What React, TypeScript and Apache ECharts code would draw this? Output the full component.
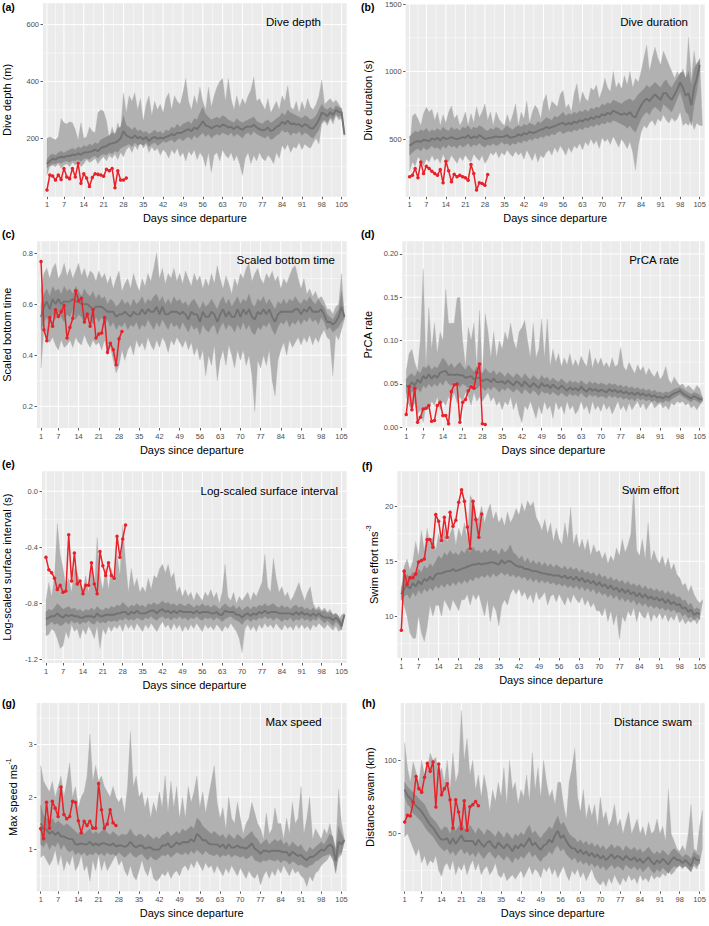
import React, { useEffect, useRef } from 'react';
import * as echarts from 'echarts';

const FONT = '"Liberation Sans", Arial, Helvetica, sans-serif';

// ---- shared x-axis breaks ----
const xTicks = [1, 7, 14, 21, 28, 35, 42, 49, 56, 63, 70, 77, 84, 91, 98, 105];
const xMinor = [4, 10.5, 17.5, 24.5, 31.5, 38.5, 45.5, 52.5, 59.5, 66.5, 73.5, 80.5, 87.5, 94.5, 101.5];

// ---- (a) Dive depth ----
const aYTicks = [200, 400, 600];
const aYMinor = [100, 300, 500];
const aOuterHi = [200,205,200,195,205,270,255,250,258,255, 230,195,255,200,205,240,225,220,290,300, 295,262,200,240,210,255,225,360,290,350,
  330,360,300,340,260,320,350,280,330,300, 320,290,340,360,300,350,330,320,360,410, 330,300,350,320,380,330,300,380,310,350,
  380,400,410,330,410,340,300,350,310,340, 320,350,370,415,330,340,320,300,340,290, 310,330,300,350,330,385,310,300,330,290,
  330,300,340,310,300,320,350,405,320,330, 340,325,335,320,300,210];
const aOuterLo = [70,100,105,100,110,95,105,110,100,115, 105,120,100,110,125,115,120,130,110,125, 135,120,140,130,145,125,150,135,160,170,
  150,175,160,190,165,180,150,170,155,165, 140,160,150,130,160,145,165,135,150,120, 155,140,160,125,150,135,100,150,80,140,
  150,120,160,140,130,150,120,140,110,70, 130,150,110,140,120,150,130,120,140,130, 110,150,130,175,160,180,150,170,165,185,
  160,180,170,165,185,200,180,250,260,245, 270,250,280,265,270,210];
const aInnerLo = [95,105,110,110,115,112,118,120,115,122, 120,125,118,128,130,125,135,138,130,140, 145,140,150,145,155,150,165,170,175,180,
  170,185,175,180,175,185,170,180,185,175, 180,190,185,190,195,185,195,200,190,200, 205,195,210,200,210,220,205,215,200,210,
  215,210,220,215,210,220,205,215,210,200, 215,220,210,225,215,210,205,200,210,195, 200,210,215,230,220,225,210,220,215,225,
  210,220,215,205,200,215,230,260,265,255, 275,265,285,275,280,212];
const aInnerHi = [125,140,145,140,150,155,148,155,160,165, 160,170,165,175,170,180,175,185,180,195, 200,205,210,220,215,235,240,280,245,240,
  230,240,225,230,220,225,215,220,230,220, 225,215,230,225,240,235,250,240,250,255, 260,250,270,265,290,310,285,275,265,270,
  275,270,280,275,265,260,255,270,260,255, 260,265,270,275,260,255,250,260,265,255, 260,270,275,290,280,300,290,285,280,275,
  270,280,275,265,270,280,300,320,305,300, 310,300,315,310,305,215];
const aMed = [110,120,128,125,132,135,133,138,137,143, 140,147,142,150,150,152,155,160,155,165, 170,172,180,182,185,190,200,225,210,205,
  200,210,200,205,195,205,190,200,205,198, 202,200,205,208,215,210,220,218,222,228, 232,225,238,232,245,260,245,242,235,240,
  245,240,248,245,238,240,232,242,235,230, 238,242,240,248,238,232,228,230,238,225, 230,240,245,258,250,262,250,252,248,250,
  240,250,245,235,235,248,265,290,285,278, 292,282,300,292,292,213];
const aObs = [18,71,67,53,71,55,94,64,58,94,64,112,42,75,60,30,62,75,73,71,66,91,86,94,26,86,53,53,60];

// ---- (b) Dive duration ----
const bYTicks = [500, 1000, 1500];
const bYMinor = [250, 750, 1250];
const bOuterHi = [420,670,690,650,600,690,735,700,720,640, 700,600,680,620,700,745,650,680,600,640, 700,600,690,620,740,660,700,760,640,700,
  600,700,650,620,600,680,620,680,760,600, 700,650,780,620,700,750,720,650,780,830, 700,780,760,740,830,860,730,760,700,840,
  910,760,850,800,780,880,860,900,800,860, 950,880,850,1000,880,920,870,970,900,1000, 880,950,920,1000,1100,1195,1000,1100,1180,1100,
  1050,1150,1100,1050,1000,950,1000,950,1020,940, 1255,950,1150,1000,1100,600];
const bOuterLo = [260,330,300,370,340,300,350,330,380,340, 360,320,390,340,330,380,350,320,370,340, 380,350,330,390,360,340,380,320,350,400,
  380,410,360,400,380,420,390,370,410,380, 400,350,420,380,340,400,330,380,360,400, 420,380,440,400,450,420,380,440,400,450,
  430,470,420,480,450,500,460,490,430,510, 480,500,460,520,480,440,500,470,430,480, 400,270,450,550,600,580,620,640,600,650,
  630,680,640,620,660,630,650,700,600,620, 600,650,570,620,600,600];
const bInnerLo = [380,400,420,430,410,440,420,430,450,430, 440,420,450,430,460,440,450,430,460,440, 450,470,440,460,450,470,450,440,460,450,
  470,450,460,480,460,470,450,470,460,480, 470,490,480,500,490,510,500,520,510,530, 520,540,530,550,560,540,550,560,550,570,
  560,580,570,590,580,600,590,610,600,620, 610,630,620,640,630,620,610,600,580,600, 570,550,600,650,680,700,680,720,740,720,
  700,760,740,720,700,750,800,850,780,700, 680,600,750,850,1000];
const bInnerHi = [520,540,560,550,570,560,580,550,570,560, 580,560,590,570,560,590,570,580,560,590, 580,600,570,590,580,600,590,570,560,580,
  570,590,580,560,580,600,580,570,590,600, 590,610,600,620,610,600,630,620,640,660, 650,640,670,660,680,700,670,690,680,700,
  690,710,700,720,700,730,720,740,730,760, 750,770,760,790,780,770,760,780,790,800, 780,800,830,850,870,900,880,900,920,900,
  880,920,940,900,880,920,950,990,1000,950, 1000,900,1020,1060,1090];
const bMed = [450,465,480,485,480,495,490,485,505,495, 510,490,515,500,505,515,505,500,505,515, 510,530,505,520,510,530,515,500,505,510,
  515,520,515,515,520,530,510,515,520,535, 525,545,535,555,545,550,560,570,575,590, 580,590,595,605,615,620,605,620,610,630,
  620,640,630,650,640,660,650,670,660,685, 675,695,685,710,700,690,680,690,680,700, 670,660,710,750,780,800,780,810,830,810,
  790,840,840,810,790,830,870,920,880,820, 840,750,880,950,1050];
const bObs = [221,233,282,213,331,245,299,282,262,245,233,275,176,336,265,184,240,221,233,221,213,196,311,245,123,176,172,159,238];

// ---- (c) Scaled bottom time ----
const cYTicks = [0.2, 0.4, 0.6, 0.8];
const cYMinor = [0.3, 0.5, 0.7];
const cOuterHi = [0.66,0.72,0.74,0.70,0.74,0.76,0.70,0.72,0.76,0.71, 0.74,0.70,0.73,0.76,0.71,0.74,0.70,0.73,0.72,0.69, 0.73,0.70,0.72,0.68,0.71,0.66,0.70,0.73,0.65,0.68,
  0.70,0.66,0.72,0.68,0.65,0.70,0.67,0.72,0.69,0.74, 0.80,0.70,0.74,0.68,0.72,0.70,0.74,0.69,0.72,0.68, 0.73,0.70,0.67,0.72,0.69,0.71,0.66,0.70,0.67,0.72,
  0.68,0.75,0.70,0.66,0.71,0.68,0.64,0.70,0.67,0.72, 0.70,0.74,0.76,0.69,0.72,0.74,0.70,0.68,0.72,0.70, 0.73,0.69,0.71,0.66,0.70,0.68,0.71,0.74,0.75,0.70,
  0.66,0.70,0.64,0.66,0.63,0.65,0.62,0.63,0.61,0.58, 0.58,0.56,0.59,0.60,0.72,0.55];
const cOuterLo = [0.35,0.50,0.46,0.45,0.47,0.44,0.42,0.46,0.43,0.44, 0.46,0.43,0.47,0.45,0.44,0.48,0.45,0.43,0.46,0.44, 0.45,0.42,0.46,0.40,0.43,0.38,0.33,0.36,0.42,0.38,
  0.42,0.44,0.40,0.46,0.43,0.45,0.42,0.47,0.44,0.42, 0.46,0.43,0.47,0.45,0.41,0.46,0.44,0.47,0.45,0.43, 0.46,0.42,0.45,0.40,0.43,0.38,0.42,0.32,0.40,0.36,
  0.44,0.30,0.38,0.42,0.36,0.44,0.40,0.35,0.42,0.38, 0.42,0.36,0.40,0.32,0.18,0.38,0.35,0.40,0.36,0.42, 0.30,0.24,0.38,0.42,0.45,0.40,0.46,0.43,0.45,0.47,
  0.44,0.47,0.45,0.48,0.44,0.47,0.45,0.48,0.50,0.47, 0.46,0.32,0.48,0.46,0.50,0.54];
const cInnerLo = [0.50,0.53,0.55,0.52,0.56,0.54,0.57,0.55,0.53,0.56, 0.55,0.58,0.54,0.56,0.55,0.53,0.56,0.54,0.52,0.55, 0.53,0.55,0.52,0.54,0.51,0.53,0.50,0.52,0.51,0.53,
  0.50,0.52,0.51,0.53,0.50,0.52,0.51,0.54,0.52,0.50, 0.53,0.51,0.54,0.52,0.50,0.53,0.51,0.52,0.50,0.53, 0.51,0.49,0.52,0.50,0.51,0.48,0.52,0.50,0.49,0.51,
  0.52,0.48,0.51,0.53,0.50,0.52,0.51,0.49,0.52,0.50, 0.53,0.50,0.52,0.49,0.48,0.51,0.50,0.52,0.51,0.53, 0.50,0.48,0.51,0.53,0.52,0.54,0.51,0.53,0.52,0.54,
  0.52,0.54,0.53,0.55,0.53,0.54,0.52,0.55,0.53,0.50, 0.51,0.49,0.50,0.51,0.53,0.545];
const cInnerHi = [0.60,0.64,0.66,0.63,0.67,0.65,0.66,0.64,0.67,0.65, 0.66,0.64,0.67,0.65,0.63,0.66,0.64,0.63,0.65,0.62, 0.64,0.62,0.63,0.60,0.62,0.61,0.59,0.60,0.62,0.60,
  0.61,0.59,0.62,0.60,0.61,0.63,0.60,0.62,0.61,0.63, 0.64,0.61,0.63,0.60,0.62,0.60,0.63,0.61,0.62,0.60, 0.61,0.59,0.61,0.62,0.60,0.58,0.61,0.59,0.60,0.62,
  0.60,0.58,0.61,0.63,0.60,0.62,0.59,0.61,0.63,0.60, 0.62,0.61,0.64,0.60,0.59,0.62,0.61,0.63,0.60,0.62, 0.60,0.58,0.61,0.60,0.62,0.60,0.62,0.61,0.63,0.61,
  0.60,0.62,0.61,0.63,0.61,0.60,0.62,0.60,0.59,0.56, 0.55,0.54,0.56,0.58,0.65,0.555];
const cMed = [0.55,0.59,0.61,0.58,0.62,0.60,0.62,0.60,0.61,0.61, 0.61,0.62,0.61,0.61,0.60,0.60,0.60,0.59,0.58,0.59, 0.59,0.59,0.58,0.57,0.57,0.57,0.55,0.56,0.56,0.57,
  0.56,0.55,0.57,0.56,0.56,0.58,0.56,0.58,0.57,0.57, 0.59,0.56,0.59,0.56,0.56,0.57,0.57,0.57,0.56,0.57, 0.56,0.54,0.57,0.56,0.56,0.53,0.57,0.55,0.55,0.57,
  0.56,0.53,0.56,0.58,0.55,0.57,0.55,0.55,0.58,0.55, 0.58,0.56,0.58,0.55,0.54,0.57,0.56,0.58,0.56,0.58, 0.55,0.53,0.56,0.57,0.57,0.57,0.57,0.57,0.58,0.58,
  0.56,0.58,0.57,0.59,0.57,0.57,0.57,0.58,0.56,0.53, 0.53,0.52,0.53,0.55,0.59,0.55];
const cObs = [0.767,0.50,0.457,0.548,0.513,0.578,0.552,0.571,0.595,0.467,0.509,0.545,0.652,0.613,0.623,0.53,0.561,0.513,0.578,0.467,0.483,0.487,0.548,0.412,0.447,0.421,0.363,0.464,0.493];

// ---- (d) PrCA rate ----
const dYTicks = [0, 0.05, 0.1, 0.15, 0.2];
const dYMinor = [0.025, 0.075, 0.125, 0.175];
const dOuterHi = [0.065,0.085,0.09,0.075,0.065,0.10,0.183,0.07,0.138,0.09, 0.12,0.085,0.11,0.10,0.159,0.12,0.12,0.12,0.149,0.15, 0.10,0.07,0.115,0.10,0.12,0.07,0.135,0.06,0.131,0.11,
  0.08,0.11,0.08,0.10,0.09,0.11,0.10,0.12,0.10,0.09, 0.11,0.115,0.123,0.10,0.08,0.12,0.08,0.09,0.125,0.08, 0.125,0.07,0.09,0.075,0.085,0.07,0.08,0.072,0.085,0.07,
  0.078,0.07,0.082,0.075,0.07,0.09,0.068,0.08,0.072,0.08, 0.07,0.075,0.068,0.08,0.07,0.072,0.092,0.07,0.065,0.075, 0.068,0.062,0.072,0.065,0.07,0.06,0.068,0.062,0.058,0.065,
  0.055,0.06,0.07,0.055,0.05,0.058,0.052,0.048,0.05,0.045, 0.048,0.045,0.042,0.048,0.045,0.035];
const dOuterLo = [0.035,0.025,0.02,0.028,0.015,0.02,0.005,0.025,0.02,0.03, 0.025,0.035,0.02,0.03,0.025,0.035,0.03,0.04,0.028,0.035, 0.03,0.04,0.035,0.025,0.04,0.03,0.035,0.03,0.035,0.04,
  0.03,0.035,0.025,0.03,0.02,0.03,0.025,0.035,0.02,0.03, 0.015,0.005,0.025,0.02,0.03,0.02,0.01,0.025,0.015,0.03, 0.02,0.025,0.01,0.03,0.02,0.025,0.015,0.03,0.02,0.025,
  0.015,0.02,0.03,0.02,0.025,0.015,0.03,0.02,0.025,0.018, 0.028,0.02,0.025,0.015,0.022,0.03,0.02,0.025,0.018,0.028, 0.02,0.025,0.03,0.022,0.028,0.02,0.025,0.03,0.022,0.025,
  0.028,0.022,0.025,0.02,0.028,0.025,0.03,0.028,0.03,0.025, 0.028,0.022,0.025,0.02,0.025,0.03];
const dInnerLo = [0.04,0.035,0.042,0.038,0.045,0.04,0.048,0.045,0.05,0.046, 0.05,0.047,0.052,0.048,0.055,0.05,0.048,0.052,0.05,0.046, 0.05,0.048,0.045,0.05,0.047,0.044,0.048,0.045,0.042,0.046,
  0.043,0.047,0.044,0.04,0.045,0.042,0.046,0.043,0.04,0.044, 0.042,0.038,0.044,0.041,0.038,0.043,0.04,0.036,0.042,0.039, 0.04,0.037,0.041,0.038,0.036,0.04,0.037,0.035,0.039,0.036,
  0.038,0.035,0.04,0.036,0.034,0.038,0.035,0.037,0.034,0.036, 0.035,0.033,0.037,0.034,0.036,0.033,0.035,0.032,0.034,0.031, 0.033,0.03,0.034,0.031,0.033,0.03,0.032,0.029,0.031,0.028,
  0.03,0.028,0.031,0.029,0.032,0.034,0.036,0.038,0.035,0.033, 0.031,0.029,0.032,0.03,0.028,0.03];
const dInnerHi = [0.055,0.06,0.062,0.058,0.065,0.062,0.07,0.068,0.072,0.066, 0.07,0.068,0.074,0.08,0.076,0.07,0.074,0.068,0.072,0.075, 0.07,0.066,0.072,0.068,0.064,0.07,0.066,0.062,0.068,0.064,
  0.062,0.066,0.06,0.064,0.062,0.058,0.063,0.06,0.057,0.062, 0.06,0.056,0.062,0.058,0.055,0.06,0.057,0.054,0.06,0.056, 0.058,0.053,0.057,0.054,0.052,0.056,0.053,0.05,0.054,0.051,
  0.053,0.05,0.054,0.051,0.049,0.053,0.05,0.052,0.049,0.051, 0.05,0.048,0.051,0.049,0.05,0.047,0.049,0.046,0.048,0.045, 0.047,0.044,0.046,0.043,0.045,0.042,0.044,0.041,0.043,0.04,
  0.041,0.039,0.041,0.04,0.042,0.044,0.045,0.046,0.044,0.042, 0.04,0.038,0.04,0.039,0.037,0.034];
const dMed = [0.048,0.047,0.052,0.048,0.055,0.051,0.059,0.056,0.061,0.056, 0.06,0.057,0.063,0.064,0.065,0.06,0.061,0.06,0.061,0.06, 0.06,0.057,0.058,0.059,0.055,0.057,0.057,0.053,0.055,0.055,
  0.052,0.056,0.052,0.052,0.053,0.05,0.054,0.051,0.048,0.053, 0.051,0.047,0.053,0.049,0.046,0.051,0.048,0.045,0.051,0.047, 0.049,0.045,0.049,0.046,0.044,0.048,0.045,0.042,0.046,0.043,
  0.045,0.042,0.047,0.043,0.041,0.045,0.042,0.044,0.041,0.043, 0.042,0.04,0.044,0.041,0.043,0.04,0.042,0.039,0.041,0.038, 0.04,0.037,0.04,0.037,0.039,0.036,0.038,0.035,0.037,0.034,
  0.035,0.033,0.036,0.034,0.037,0.039,0.04,0.042,0.039,0.037, 0.035,0.033,0.036,0.034,0.032,0.032];
const dObs = [0.0146,0.0467,0.02,0.045,0.0057,0.0115,0.021,0.0218,0.025,0.0069,0.0077,0.025,0.0287,0.0134,0.0134,0.0038,0.041,0.049,0.0498,0.0057,0.0287,0.032,0.042,0.0467,0.045,0.063,0.0728,0.0038,0.003];

// ---- (e) Log-scaled surface interval ----
const eYTicks = [-1.2, -0.8, -0.4, 0];
const eYMinor = [-1.0, -0.6, -0.2];
const eOuterHi = [-0.78,-0.65,-0.75,-0.60,-0.23,-0.45,-0.55,-0.68,-0.62,-0.72, -0.55,-0.58,-0.66,-0.70,-0.60,-0.72,-0.55,-0.70,-0.33,-0.60, -0.70,-0.55,-0.70,-0.55,-0.65,-0.45,-0.60,-0.24,-0.50,-0.72,
  -0.55,-0.68,-0.62,-0.72,-0.68,-0.72,-0.62,-0.70,-0.60,-0.62, -0.55,-0.52,-0.58,-0.52,-0.62,-0.58,-0.72,-0.68,-0.75,-0.70, -0.75,-0.72,-0.78,-0.72,-0.75,-0.78,-0.72,-0.75,-0.70,-0.76,
  -0.72,-0.80,-0.72,-0.52,-0.75,-0.78,-0.72,-0.80,-0.75,-0.78, -0.75,-0.72,-0.78,-0.72,-0.75,-0.70,-0.65,-0.45,-0.68,-0.72, -0.48,-0.62,-0.72,-0.68,-0.75,-0.72,-0.78,-0.75,-0.70,-0.65,
  -0.72,-0.78,-0.72,-0.68,-0.80,-0.84,-0.82,-0.85,-0.83,-0.86, -0.84,-0.88,-0.90,-0.92,-0.88,-0.87];
const eOuterLo = [-1.03,-1.02,-0.98,-1.00,-1.05,-1.12,-1.10,-1.00,-1.05,-0.95, -1.00,-0.98,-1.05,-0.98,-1.02,-0.96,-1.00,-1.05,-0.96,-1.12, -0.98,-1.02,-0.96,-1.00,-0.96,-0.98,-0.95,-1.00,-0.94,-0.98,
  -0.95,-0.99,-0.94,-0.97,-1.00,-0.95,-0.98,-0.94,-0.97,-1.00, -0.96,-0.93,-0.97,-0.95,-0.99,-0.94,-0.98,-0.95,-1.00,-0.96, -0.99,-0.95,-0.98,-0.94,-0.97,-1.00,-0.95,-0.98,-0.96,-0.99,
  -0.95,-0.97,-1.00,-0.96,-0.98,-0.94,-0.97,-1.00,-1.05,-1.15, -0.98,-0.95,-0.99,-0.96,-1.00,-0.95,-0.98,-0.94,-0.97,-0.95, -0.98,-0.94,-0.97,-0.99,-0.95,-0.98,-0.96,-0.99,-0.95,-0.98,
  -0.95,-0.98,-0.96,-0.99,-0.95,-0.97,-0.94,-0.96,-0.98,-0.95, -0.97,-0.99,-0.96,-1.00,-0.98,-0.88];
const eInnerLo = [-0.96,-0.95,-0.93,-0.95,-0.94,-0.96,-0.95,-0.93,-0.95,-0.92, -0.94,-0.93,-0.95,-0.93,-0.94,-0.92,-0.94,-0.95,-0.92,-0.94, -0.93,-0.94,-0.92,-0.93,-0.92,-0.93,-0.91,-0.92,-0.90,-0.92,
  -0.91,-0.92,-0.90,-0.91,-0.92,-0.90,-0.91,-0.89,-0.91,-0.92, -0.90,-0.89,-0.91,-0.90,-0.92,-0.90,-0.91,-0.89,-0.91,-0.90, -0.92,-0.90,-0.91,-0.89,-0.91,-0.92,-0.90,-0.91,-0.90,-0.92,
  -0.90,-0.91,-0.93,-0.91,-0.90,-0.89,-0.91,-0.92,-0.93,-0.95, -0.92,-0.91,-0.93,-0.91,-0.92,-0.90,-0.91,-0.89,-0.91,-0.90, -0.92,-0.90,-0.91,-0.93,-0.91,-0.92,-0.90,-0.93,-0.91,-0.92,
  -0.90,-0.92,-0.91,-0.93,-0.91,-0.92,-0.90,-0.92,-0.94,-0.92, -0.94,-0.96,-0.93,-0.95,-0.99,-0.88];
const eInnerHi = [-0.86,-0.84,-0.85,-0.83,-0.80,-0.82,-0.84,-0.83,-0.82,-0.84, -0.83,-0.85,-0.84,-0.86,-0.84,-0.85,-0.83,-0.85,-0.82,-0.84, -0.85,-0.83,-0.84,-0.82,-0.83,-0.81,-0.82,-0.79,-0.81,-0.83,
  -0.81,-0.82,-0.80,-0.82,-0.81,-0.83,-0.80,-0.81,-0.79,-0.81, -0.80,-0.78,-0.80,-0.79,-0.81,-0.80,-0.82,-0.80,-0.81,-0.82, -0.80,-0.81,-0.83,-0.81,-0.82,-0.80,-0.82,-0.81,-0.83,-0.81,
  -0.82,-0.84,-0.82,-0.80,-0.82,-0.83,-0.81,-0.84,-0.82,-0.85, -0.83,-0.82,-0.84,-0.82,-0.83,-0.81,-0.82,-0.80,-0.82,-0.81, -0.80,-0.82,-0.83,-0.81,-0.83,-0.82,-0.84,-0.82,-0.81,-0.83,
  -0.82,-0.84,-0.83,-0.85,-0.83,-0.85,-0.84,-0.86,-0.85,-0.87, -0.86,-0.88,-0.87,-0.89,-0.93,-0.88];
const eMed = [-0.91,-0.90,-0.89,-0.89,-0.87,-0.89,-0.90,-0.88,-0.89,-0.88, -0.89,-0.89,-0.90,-0.90,-0.89,-0.89,-0.89,-0.90,-0.87,-0.89, -0.89,-0.88,-0.88,-0.88,-0.88,-0.87,-0.87,-0.86,-0.86,-0.88,
  -0.86,-0.87,-0.85,-0.87,-0.87,-0.87,-0.86,-0.85,-0.85,-0.87, -0.85,-0.84,-0.86,-0.85,-0.87,-0.85,-0.87,-0.85,-0.86,-0.86, -0.86,-0.86,-0.87,-0.85,-0.87,-0.86,-0.86,-0.86,-0.87,-0.87,
  -0.86,-0.88,-0.88,-0.85,-0.86,-0.86,-0.86,-0.88,-0.88,-0.90, -0.88,-0.87,-0.89,-0.87,-0.88,-0.86,-0.87,-0.85,-0.87,-0.86, -0.86,-0.86,-0.87,-0.87,-0.87,-0.87,-0.87,-0.88,-0.86,-0.88,
  -0.86,-0.88,-0.87,-0.89,-0.87,-0.89,-0.87,-0.89,-0.90,-0.90, -0.90,-0.92,-0.90,-0.92,-0.96,-0.88];
const eObs = [-0.47,-0.56,-0.58,-0.62,-0.70,-0.67,-0.72,-0.71,-0.31,-0.64,-0.44,-0.66,-0.64,-0.73,-0.67,-0.67,-0.51,-0.66,-0.73,-0.43,-0.53,-0.60,-0.51,-0.60,-0.62,-0.32,-0.47,-0.34,-0.24];

// ---- (f) Swim effort ----
const fYTicks = [10, 15, 20];
const fYMinor = [7.5, 12.5, 17.5];
const fOuterHi = [12.5,14.5,15.2,14.2,15.0,16.8,15.5,17.8,16.0,18.0, 16.5,17.2,16.0,17.5,16.5,18.0,16.8,17.5,18.2,16.5, 18.0,17.2,18.5,17.0,21.0,20.5,18.5,19.0,20.0,18.5,
  19.5,20.2,18.8,19.5,18.5,19.0,18.2,19.5,18.5,19.0, 19.8,19.2,20.3,19.5,20.5,20.0,20.4,19.0,18.5,17.8, 18.8,17.5,18.5,16.8,18.0,17.0,16.5,18.5,17.0,19.9,
  16.5,17.5,16.2,17.0,16.0,17.0,15.5,16.5,15.8,16.0, 15.2,15.8,14.8,15.5,15.0,16.2,15.5,17.0,15.8,16.5, 17.5,21.7,16.0,15.5,17.0,15.2,18.5,15.0,16.0,15.2,
  14.8,15.5,14.5,15.3,14.2,14.8,13.8,13.5,12.8,13.0, 12.2,12.8,12.0,11.5,11.2,11.5];
const fOuterLo = [11.5,11.0,10.0,8.5,8.0,8.0,10.0,8.5,7.7,9.0, 11.0,10.0,11.0,11.0,10.0,11.5,11.0,10.5,11.5,11.0, 10.5,11.5,11.5,12.0,11.0,12.0,11.5,12.0,11.0,10.0,
  11.5,9.5,11.0,10.5,9.1,11.0,11.5,11.0,12.0,12.5, 12.0,12.5,11.8,12.2,11.5,12.0,11.2,12.3,11.5,11.8, 12.2,11.0,11.8,12.0,11.3,12.0,11.5,11.0,11.8,11.2,
  12.0,11.5,11.2,11.8,11.0,11.5,10.8,11.2,10.5,10.5, 10.0,10.8,9.5,10.5,9.2,10.2,7.9,10.0,9.5,10.5, 10.0,10.8,9.5,10.5,10.0,9.8,10.5,9.5,10.2,9.8,
  10.3,9.7,10.2,9.5,10.0,9.6,10.2,9.4,9.8,9.3, 9.6,9.4,9.8,9.3,9.8,11.3];
const fInnerLo = [11.5,11.8,12.0,11.6,12.2,11.8,12.4,12.0,12.5,12.2, 12.6,12.3,12.8,12.5,12.9,12.6,13.0,12.7,13.1,12.8, 13.2,12.9,13.3,13.0,13.4,13.2,13.6,13.4,13.7,13.5,
  13.8,13.5,13.9,13.6,13.8,14.0,13.7,13.9,13.6,13.8, 13.5,13.7,13.4,13.6,13.2,13.5,13.1,13.4,13.0,13.3, 13.0,13.2,12.9,13.1,12.8,13.0,12.7,12.9,12.6,12.8,
  12.5,12.8,12.4,12.7,12.3,12.6,12.2,12.5,12.0,12.3, 11.9,12.1,11.7,12.0,11.6,11.9,11.4,11.7,11.3,11.6, 11.2,11.5,11.0,11.3,10.9,11.2,10.8,11.0,10.7,10.9,
  10.6,10.8,10.5,10.7,10.4,10.6,10.3,10.4,10.0,10.2, 9.8,10.0,9.6,9.9,9.7];
const fInnerHi = [12.5,13.5,13.8,13.6,14.0,13.8,14.3,14.0,14.6,14.3, 14.8,14.5,15.0,15.5,15.2,15.8,15.5,16.0,15.6,15.8, 15.5,16.0,15.7,16.2,15.8,16.3,15.9,16.0,15.7,16.1,
  15.8,16.2,15.9,16.0,15.6,16.2,15.8,16.0,16.5,15.8, 15.6,15.2,15.5,14.9,15.3,14.8,15.1,14.7,15.0,14.6, 14.9,14.5,14.8,14.4,14.7,14.5,14.3,14.6,14.2,14.5,
  14.2,14.4,14.0,14.3,13.9,14.1,13.8,14.0,13.6,13.9, 13.5,13.7,13.3,13.6,13.2,13.4,13.1,13.3,12.9,13.2, 12.8,13.0,12.7,12.9,12.5,12.8,12.4,12.6,12.3,12.5,
  12.2,12.4,12.0,12.3,11.9,12.1,11.7,11.8,11.4,11.5, 11.0,11.2,10.6,10.8,10.6];
const fMed = [12.0,12.5,12.8,12.5,13.0,12.7,13.2,12.9,13.4,13.2, 13.6,13.3,13.8,13.9,13.9,14.0,14.1,14.1,14.3,14.1, 14.2,14.3,14.4,14.5,14.6,14.7,14.7,14.8,14.7,14.8,
  14.8,14.9,14.9,14.8,14.7,15.1,14.8,15.0,15.0,14.8, 14.6,14.5,14.5,14.3,14.3,14.2,14.1,14.1,14.0,13.9, 13.9,13.8,13.8,13.7,13.7,13.7,13.5,13.7,13.4,13.6,
  13.3,13.6,13.2,13.5,13.1,13.3,13.0,13.2,12.8,13.1, 12.7,12.9,12.5,12.8,12.4,12.6,12.2,12.5,12.1,12.4, 12.0,12.2,11.8,12.1,11.7,12.0,11.6,11.8,11.5,11.7,
  11.4,11.6,11.2,11.5,11.1,11.3,11.0,11.1,10.7,10.8, 10.4,10.6,10.1,10.3,10.2];
const fObs = [8.73,14.1,12.9,13.5,13.5,13.85,14.94,15.06,15.2,16.97,16.97,16.27,19.24,18.64,16.88,19.0,17.18,19.45,18.18,18.73,20.36,21.5,20.45,18.12,16.15,20.45,18.79,17.18,19.3];

// ---- (g) Max speed ----
const gYTicks = [1, 2, 3];
const gYMinor = [0.5, 1.5, 2.5, 3.5];
const gOuterHi = [2.6,2.3,2.2,2.1,2.3,2.0,2.2,2.4,2.0,2.3, 2.65,2.0,2.2,1.8,2.0,2.1,2.4,3.2,2.3,2.6, 2.3,2.4,2.2,2.1,2.0,2.2,2.0,1.9,2.0,1.7,
  2.2,3.25,2.2,2.4,2.0,2.1,1.8,2.0,1.6,1.9, 1.7,2.1,1.8,2.4,1.7,2.3,1.8,2.2,1.6,2.0, 1.6,2.2,1.9,2.1,2.4,1.8,2.1,1.7,2.0,2.3,
  2.6,1.9,1.6,1.8,1.4,2.0,1.6,1.5,1.9,1.6, 1.3,1.5,1.6,1.9,1.7,1.5,1.4,1.2,1.7,1.3, 1.4,1.8,1.5,1.5,1.2,1.6,1.3,1.9,1.5,1.6,
  2.2,1.3,1.6,2.0,1.2,1.4,1.3,1.2,1.4,1.3, 1.5,1.2,1.0,2.15,1.5,1.2];
const gOuterLo = [0.85,0.9,0.8,0.7,0.8,1.0,0.7,0.9,0.6,0.8, 0.7,0.9,0.6,0.7,0.9,0.6,0.7,0.4,0.8,0.6, 0.9,0.6,0.8,0.6,0.7,0.8,0.9,0.7,0.8,0.6,
  0.5,0.7,0.5,0.42,0.6,0.8,0.6,0.5,0.7,0.45, 0.4,0.45,0.55,0.5,0.6,0.45,0.55,0.6,0.5,0.65, 0.7,0.6,0.75,0.65,0.8,0.7,0.6,0.75,0.65,0.7,
  0.55,0.7,0.6,0.5,0.65,0.55,0.7,0.6,0.5,0.65, 0.55,0.45,0.6,0.5,0.45,0.55,0.33,0.5,0.6,0.45, 0.6,0.5,0.65,0.55,0.7,0.6,0.5,0.65,0.55,0.6,
  0.5,0.45,0.3,0.5,0.4,0.55,0.6,0.7,0.75,0.8, 0.9,0.8,0.75,0.85,0.9,1.15];
const gInnerLo = [1.1,1.05,1.15,1.0,1.1,1.05,1.15,1.0,1.1,1.0, 0.95,1.0,0.9,0.95,0.9,0.95,0.88,0.92,0.9,0.95, 0.9,0.93,0.88,0.95,0.9,0.92,0.88,0.95,0.9,0.85,
  0.9,0.95,0.88,0.85,0.9,0.92,0.85,0.8,0.88,0.82, 0.8,0.85,0.9,0.88,0.92,0.85,0.9,0.95,0.92,0.9, 0.95,0.9,0.98,0.92,1.0,0.95,0.9,0.98,0.92,0.9,
  0.88,0.92,0.85,0.9,0.88,0.92,0.85,0.9,0.88,0.85, 0.88,0.82,0.85,0.9,0.8,0.78,0.75,0.8,0.78,0.82, 0.8,0.78,0.82,0.75,0.8,0.78,0.72,0.78,0.75,0.7,
  0.72,0.68,0.65,0.7,0.72,0.78,0.8,0.85,0.88,0.9, 0.92,0.85,0.55,0.9,0.95,1.16];
const gInnerHi = [1.85,1.65,1.6,1.55,1.6,1.5,1.55,1.5,1.45,1.5, 1.45,1.4,1.35,1.3,1.35,1.3,1.35,1.4,1.3,1.35, 1.3,1.35,1.4,1.32,1.28,1.35,1.3,1.25,1.3,1.28,
  1.3,1.4,1.3,1.25,1.3,1.28,1.22,1.3,1.25,1.2, 1.25,1.2,1.28,1.3,1.35,1.25,1.3,1.35,1.3,1.4, 1.35,1.4,1.45,1.4,1.6,1.55,1.45,1.4,1.35,1.3,
  1.35,1.3,1.25,1.3,1.2,1.3,1.25,1.2,1.3,1.25, 1.2,1.25,1.3,1.35,1.25,1.2,1.1,1.15,1.2,1.1, 1.15,1.2,1.15,1.2,1.1,1.15,1.05,1.15,1.1,1.05,
  1.1,1.0,0.95,1.05,1.0,1.05,1.1,1.15,1.1,1.2, 1.3,1.25,1.0,1.45,1.3,1.19];
const gMed = [1.5,1.4,1.38,1.3,1.35,1.28,1.33,1.25,1.25,1.22, 1.2,1.2,1.1,1.1,1.12,1.1,1.1,1.15,1.08,1.12, 1.08,1.12,1.12,1.1,1.08,1.12,1.06,1.08,1.08,1.05,
  1.08,1.15,1.08,1.04,1.08,1.08,1.02,1.04,1.04,1.0, 1.0,1.0,1.08,1.08,1.12,1.04,1.08,1.14,1.1,1.14, 1.14,1.14,1.2,1.15,1.3,1.25,1.18,1.18,1.12,1.1,
  1.1,1.1,1.05,1.1,1.02,1.1,1.04,1.04,1.08,1.04, 1.04,1.02,1.06,1.12,1.02,0.98,0.92,0.98,0.98,0.96, 0.98,0.98,0.98,0.97,0.95,0.96,0.88,0.96,0.92,0.88,
  0.9,0.84,0.8,0.86,0.86,0.9,0.95,1.0,0.98,1.05, 1.1,1.05,0.78,1.15,1.1,1.18];
const gObs = [1.40,1.21,1.90,1.41,1.92,1.79,1.63,2.19,1.67,1.59,1.63,1.92,1.90,1.55,1.32,1.54,1.46,1.54,1.41,1.41,2.26,1.76,1.41,1.49,1.76,1.51,1.46];

// ---- (h) Distance swam ----
const hYTicks = [50, 100];
const hYMinor = [25, 75, 125];
const hOuterHi = [112,95,85,99,92,85,100,90,95,105, 100,102,90,95,85,100,80,105,85,92, 134,100,115,90,100,80,90,75,90,80,
  65,80,72,85,75,95,70,100,80,85, 70,80,75,90,72,105,80,95,75,100, 85,75,80,70,85,85,70,60,85,95,
  108,75,65,80,60,70,62,70,55,75, 60,65,55,60,70,55,60,50,58,65, 50,55,60,50,55,48,58,50,52,60,
  50,55,45,80,50,45,40,38,42,38, 50,70,40,38,55,66];
const hOuterLo = [48,50,45,40,35,40,30,35,28,32, 30,35,25,21,28,30,25,32,22,28, 25,30,22,28,32,25,30,22,26,28,
  22,25,30,22,20,24,18,20,22,19, 22,25,20,24,28,22,26,24,20,27, 24,28,22,26,20,24,28,22,18,25,
  22,26,20,24,18,22,26,20,17,15, 18,14,20,16,22,18,15,20,17,22, 18,20,16,22,18,20,17,22,19,21,
  20,23,21,25,22,24,27,28,26,29, 27,25,28,26,30,40];
const hInnerLo = [75,70,68,64,62,60,58,55,52,50, 48,45,42,40,38,40,36,38,35,38, 40,36,38,35,37,34,38,35,33,36,
  38,35,33,36,34,32,35,33,30,34, 32,35,33,36,38,34,36,33,31,34, 35,38,36,40,42,38,40,36,34,32,
  34,30,32,29,31,28,30,27,29,26, 28,25,27,29,26,28,27,25,29,27, 26,28,25,27,24,26,28,25,23,26,
  24,27,25,23,26,28,27,29,27,28, 26,24,30,28,30];
const hInnerHi = [85,82,80,78,76,74,72,70,66,62, 60,58,55,52,55,54,50,56,52,55, 58,54,52,56,53,50,54,52,49,53,
  52,50,48,52,50,47,51,49,46,50, 48,51,49,53,56,50,52,49,47,50, 52,55,53,58,62,56,58,54,50,48,
  47,44,46,43,45,42,44,41,43,40, 42,39,41,43,40,42,41,38,42,40, 39,41,38,40,37,39,41,38,36,38,
  36,39,37,35,38,40,38,36,34,36, 35,33,38,36,35];
const hMed = [80,76,74,71,69,67,65,62,59,56, 54,51,48,46,46,47,43,47,43,46, 49,45,45,45,45,42,46,43,41,44,
  45,42,40,44,42,40,43,41,38,42, 40,43,41,44,47,42,44,41,39,42, 43,46,44,49,52,47,49,45,42,40,
  40,37,39,36,38,35,37,34,36,33, 35,32,34,36,33,35,34,32,35,33, 32,34,31,33,30,32,34,31,29,32,
  30,33,31,29,32,34,32,32,30,32, 30,28,34,32,32];
const hObs = [58,62.5,62,71.6,89,80.7,78.2,88.4,98,92.5,98.9,68.2,97.5,76.6,80.7,84,73.2,53.9,73.2,64.8,53.4,72.5,52.3,68.4,69.8,72,69];

// ---- panel configuration (layout) ----
const fmt0 = (v: number) => String(v);
const fmt1 = (v: number) => v.toFixed(1);
const fmt2 = (v: number) => v.toFixed(2);

const panels = [
  { lo: aOuterLo, hi: aOuterHi, ilo: aInnerLo, ihi: aInnerHi, med: aMed, obs: aObs, yt: aYTicks, ym: aYMinor,
    yMin: -5.6, yMax: 675, yName: 'Dive depth (m)', title: 'Dive depth', letter: '(a)', fmt: fmt0,
    box: [41.7, 3.3, 305, 193.4], tr: 321, ty: 22, lx: 2, ly: 7, gap: 31 },
  { lo: bOuterLo, hi: bOuterHi, ilo: bInnerLo, ihi: bInnerHi, med: bMed, obs: bObs, yt: bYTicks, ym: bYMinor,
    yMin: 73.5, yMax: 1500, yName: 'Dive duration (s)', title: 'Dive duration', letter: '(b)', fmt: fmt0,
    box: [405.7, 3.3, 299, 193.4], tr: 688, ty: 22, lx: 361, ly: 7, gap: 32 },
  { lo: cOuterLo, hi: cOuterHi, ilo: cInnerLo, ihi: cInnerHi, med: cMed, obs: cObs, yt: cYTicks, ym: cYMinor,
    yMin: 0.115, yMax: 0.846, yName: 'Scaled bottom time', title: 'Scaled bottom time', letter: '(c)', fmt: fmt1,
    box: [36.7, 241.3, 310, 186.7], tr: 335, ty: 259.7, lx: 2, ly: 234, gap: 25 },
  { lo: dOuterLo, hi: dOuterHi, ilo: dInnerLo, ihi: dInnerHi, med: dMed, obs: dObs, yt: dYTicks, ym: dYMinor,
    yMin: -0.001, yMax: 0.2146, yName: 'PrCA rate', title: 'PrCA rate', letter: '(d)', fmt: fmt2,
    box: [402.3, 241.3, 302.4, 186.7], tr: 679, ty: 259.7, lx: 361, ly: 234, gap: 29 },
  { lo: eOuterLo, hi: eOuterHi, ilo: eInnerLo, ihi: eInnerHi, med: eMed, obs: eObs, yt: eYTicks, ym: eYMinor,
    yMin: -1.2235, yMax: 0.142, yName: 'Log-scaled surface interval (s)', title: 'Log-scaled surface interval', letter: '(e)', fmt: fmt1,
    box: [41.7, 471.3, 305, 191.7], tr: 338, ty: 491.3, lx: 2, ly: 464, gap: 30 },
  { lo: fOuterLo, hi: fOuterHi, ilo: fInnerLo, ihi: fInnerHi, med: fMed, obs: fObs, yt: fYTicks, ym: fYMinor,
    yMin: 6.2, yMax: 23.18, yName: '{a|Swim effort ms}{s|-3}', title: 'Swim effort', letter: '(f)', fmt: fmt0,
    box: [397.3, 471.3, 308.4, 186.7], tr: 679, ty: 490.3, lx: 362, ly: 466, gap: 18 },
  { lo: gOuterLo, hi: gOuterHi, ilo: gInnerLo, ihi: gInnerHi, med: gMed, obs: gObs, yt: gYTicks, ym: gYMinor,
    yMin: 0.208, yMax: 3.79, yName: '{a|Max speed ms}{s|-1}', title: 'Max speed', letter: '(g)', fmt: fmt0,
    box: [36.7, 703, 310, 188.3], tr: 321.7, ty: 722.3, lx: 2, ly: 703, gap: 18 },
  { lo: hOuterLo, hi: hOuterHi, ilo: hInnerLo, ihi: hInnerHi, med: hMed, obs: hObs, yt: hYTicks, ym: hYMinor,
    yMin: 10.8, yMax: 139, yName: 'Distance swam (km)', title: 'Distance swam', letter: '(h)', fmt: fmt0,
    box: [400.7, 703, 304, 188.3], tr: 692, ty: 722.3, lx: 362, ly: 703, gap: 25 },
];

const X_MIN = -0.4;
const X_MAX = 106.8;

function bandSeries(i: number, lo: number[], hi: number[], color: string, z: number, yMid: number) {
  return {
    type: 'custom', xAxisIndex: i, yAxisIndex: i, z, silent: true,
    data: [[50, yMid]],
    renderItem: (_p: any, api: any) => {
      const pts: number[][] = [];
      for (let k = 0; k < hi.length; k++) pts.push(api.coord([k + 1, hi[k]]));
      for (let k = lo.length - 1; k >= 0; k--) pts.push(api.coord([k + 1, lo[k]]));
      return { type: 'polygon', shape: { points: pts }, style: { fill: color, stroke: color, lineWidth: 0.3 } };
    },
  };
}

function gridLineSeries(i: number, yt: number[], ym: number[], yMid: number) {
  return {
    type: 'custom', xAxisIndex: i, yAxisIndex: i, z: 1, silent: true,
    data: [[50, yMid]],
    renderItem: (params: any, api: any) => {
      const cs = params.coordSys;
      const children: any[] = [];
      const hLine = (v: number, w: number) => {
        const p = api.coord([50, v]);
        children.push({ type: 'line', shape: { x1: cs.x, y1: p[1], x2: cs.x + cs.width, y2: p[1] }, style: { stroke: '#ffffff', lineWidth: w } });
      };
      const vLine = (v: number, w: number) => {
        const p = api.coord([v, yMid]);
        children.push({ type: 'line', shape: { x1: p[0], y1: cs.y, x2: p[0], y2: cs.y + cs.height }, style: { stroke: '#ffffff', lineWidth: w } });
      };
      ym.forEach((v) => hLine(v, 0.5));
      xMinor.forEach((v) => vLine(v, 0.5));
      yt.forEach((v) => hLine(v, 1));
      xTicks.forEach((v) => vLine(v, 1));
      return { type: 'group', children };
    },
  };
}

export default function App() {
  const ref = useRef<HTMLDivElement>(null);
  useEffect(() => {
    document.body.style.margin = '0';
    if (!ref.current) return;
    const chart = echarts.init(ref.current, undefined, { renderer: 'svg' });

    const grid: any[] = [];
    const xAxis: any[] = [];
    const yAxis: any[] = [];
    const series: any[] = [];
    const graphic: any[] = [];

    panels.forEach((p, i) => {
      const [l, t, w, h] = p.box;
      const yMid = (p.yMin + p.yMax) / 2;
      grid.push({ left: l, top: t, width: w, height: h, show: true, backgroundColor: '#EBEBEB', borderWidth: 0, containLabel: false });
      xAxis.push({
        gridIndex: i, type: 'value', min: X_MIN, max: X_MAX, position: 'bottom',
        axisLine: { show: false, onZero: false },
        axisTick: { show: true, customValues: xTicks, length: 2.5, lineStyle: { color: '#333333', width: 0.8 } },
        axisLabel: { customValues: xTicks, fontSize: 7.5, color: '#4D4D4D', margin: 4, fontFamily: FONT },
        splitLine: { show: false },
        name: 'Days since departure', nameLocation: 'middle', nameGap: 16,
        nameTextStyle: { fontSize: 11, color: '#000000', fontFamily: FONT },
      });
      yAxis.push({
        gridIndex: i, type: 'value', min: p.yMin, max: p.yMax, position: 'left',
        axisLine: { show: false, onZero: false },
        axisTick: { show: true, customValues: p.yt, length: 2.5, lineStyle: { color: '#333333', width: 0.8 } },
        axisLabel: { customValues: p.yt, fontSize: 7.5, color: '#4D4D4D', margin: 4, fontFamily: FONT, formatter: (v: number) => p.fmt(v) },
        splitLine: { show: false },
        name: p.yName, nameLocation: 'middle', nameGap: p.gap, nameRotate: 90,
        nameTextStyle: {
          fontSize: 11, color: '#000000', fontFamily: FONT,
          rich: {
            a: { fontSize: 11, color: '#000000', fontFamily: FONT, lineHeight: 14, verticalAlign: 'bottom' },
            s: { fontSize: 7, color: '#000000', fontFamily: FONT, lineHeight: 14, verticalAlign: 'top', padding: [0, 0, 4, 0] },
          },
        },
      });
      series.push(gridLineSeries(i, p.yt, p.ym, yMid));
      series.push(bandSeries(i, p.lo, p.hi, '#B1B1B1', 2, yMid));
      series.push(bandSeries(i, p.ilo, p.ihi, '#8E8E8E', 3, yMid));
      series.push({
        type: 'line', xAxisIndex: i, yAxisIndex: i, z: 4, silent: true,
        data: p.med.map((v, k) => [k + 1, v]),
        showSymbol: false, symbol: 'none',
        lineStyle: { color: '#727272', width: 1.9 },
      });
      series.push({
        type: 'line', xAxisIndex: i, yAxisIndex: i, z: 5, silent: true,
        data: p.obs.map((v, k) => [k + 1, v]),
        symbol: 'circle', symbolSize: 3.5, showSymbol: true,
        itemStyle: { color: '#E6222A' },
        lineStyle: { color: '#E6222A', width: 1.5 },
      });
      graphic.push({
        type: 'text', x: p.tr, y: p.ty, z: 10,
        style: { text: p.title, fill: '#000000', font: `11.5px ${FONT}`, textAlign: 'right', textVerticalAlign: 'middle' },
      });
      graphic.push({
        type: 'text', x: p.lx, y: p.ly, z: 10,
        style: { text: p.letter, fill: '#000000', font: `bold 10.5px ${FONT}`, textAlign: 'left', textVerticalAlign: 'middle' },
      });
    });

    chart.setOption({
      animation: false,
      backgroundColor: '#ffffff',
      textStyle: { fontFamily: FONT },
      grid, xAxis, yAxis, series, graphic,
    });
    return () => chart.dispose();
  }, []);
  return <div ref={ref} style={{ width: 709, height: 926 }} />;
}
